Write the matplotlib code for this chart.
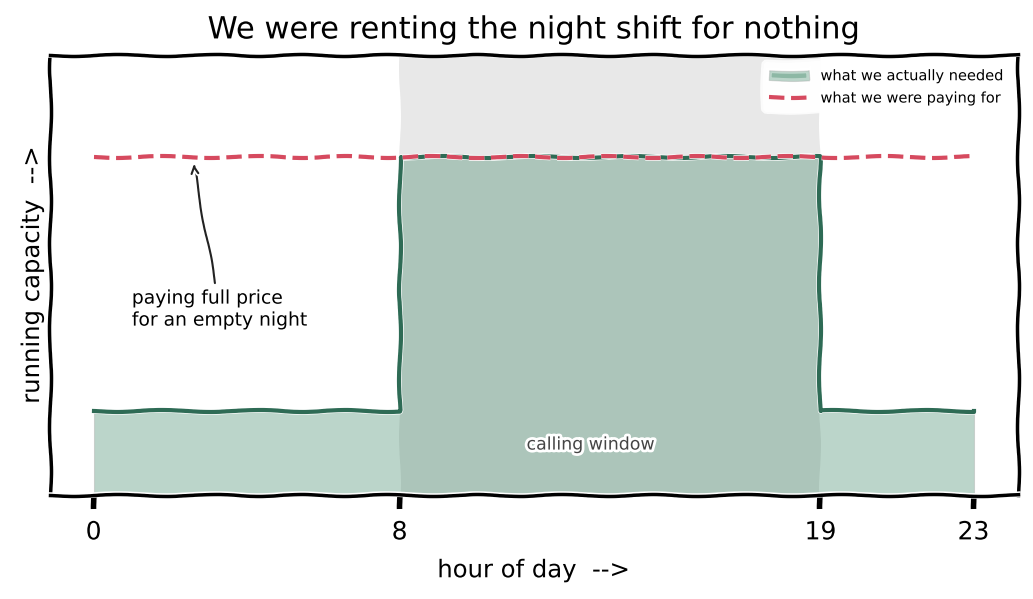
import matplotlib
matplotlib.use("Agg")
import matplotlib.pyplot as plt
import numpy as np

# data
hours = [0, 8, 19, 23]
needed = [1, 4, 1, 1]
paying = [4, 4, 4, 4]
tick_hours = [0, 8, 19, 23]
window = (8, 19)

GREEN = "#2e6b55"
FILL = "#2e7d5b"
RED = "#d64a5f"

with plt.xkcd():
    plt.rcParams["font.family"] = ["DejaVu Sans"]
    plt.rcParams["axes.linewidth"] = 2.5
    fig, ax = plt.subplots(figsize=(10.33, 5.99), dpi=100)

    ax.axvspan(window[0], window[1], color="#e8e8e8", zorder=0, linewidth=0)
    ax.fill_between(hours, 0, needed, step="post", color=FILL, alpha=0.32,
                    edgecolor="#999999", linewidth=0.8,
                    label="what we actually needed", zorder=1)
    ax.step(hours, needed, where="post", color=GREEN, linewidth=3, zorder=2)
    ax.plot(hours, paying, color=RED, linestyle="--", linewidth=3,
            label="what we were paying for", zorder=3)

    ax.text(13, 0.6, "calling window", ha="center", va="center",
            fontsize=12.5, color="#444444", zorder=4)
    ax.annotate("paying full price\nfor an empty night", xy=(2.6, 3.95),
                xytext=(1.0, 2.2), ha="left", va="center", fontsize=13.5,
                arrowprops=dict(arrowstyle="->", color="#222222", lw=1.5))

    ax.set_xlim(-1.15, 24.15)
    ax.set_ylim(0, 5.2)
    ax.set_xticks(tick_hours)
    ax.set_xticklabels([str(h) for h in tick_hours], fontsize=18)
    ax.tick_params(axis="x", length=10, width=4, pad=8)
    ax.set_yticks([])
    ax.set_xlabel("hour of day  -->", fontsize=17.5, labelpad=10)
    ax.set_ylabel("running capacity  -->", fontsize=17.5, labelpad=4)
    ax.set_title("We were renting the night shift for nothing", fontsize=22, pad=12)
    ax.legend(loc="upper right", fontsize=10.5, frameon=True, facecolor="white",
              edgecolor="white", framealpha=0.85, handlelength=2.7)

    fig.subplots_adjust(left=0.048, right=0.985, top=0.908, bottom=0.173)
    fig.savefig("out.png", dpi=100)
